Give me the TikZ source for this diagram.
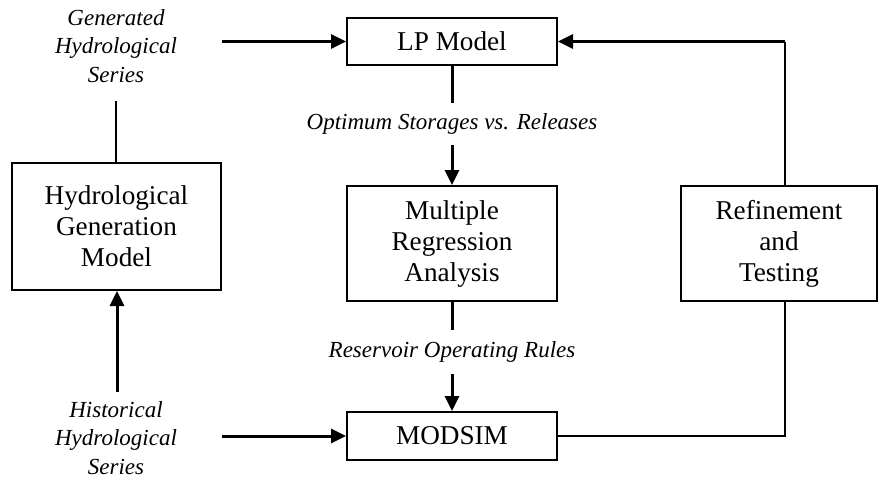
\documentclass[tikz,border=0pt]{standalone}
\usepackage{fontspec}
\setmainfont{Liberation Serif}
\usetikzlibrary{arrows.meta}
\begin{document}
\begin{tikzpicture}[x=0.5pt,y=-0.5pt,
  box/.style={draw, line width=1pt, inner sep=0pt, align=center,
    font=\fontsize{13.6}{15.5}\selectfont},
  lbl/.style={inner sep=0pt, align=center,
    font=\fontsize{11.5}{14.2}\selectfont\itshape},
  flow/.style={line width=1.5pt, -{Triangle[length=7.5pt,width=7pt]}},
  heavy/.style={line width=1.5pt},
  thinline/.style={line width=1pt}]
\useasboundingbox (0,0) rectangle (878,478);

% process boxes
\node[box, minimum width=105pt, minimum height=23.5pt] (lp)  at (452,41.5) {LP Model};
\node[box, minimum width=105pt, minimum height=57.5pt] (mra) at (452,243.5) {Multiple\\Regression\\Analysis};
\node[box, minimum width=105pt, minimum height=24pt]   (mod) at (452,436) {MODSIM};
\node[box, minimum width=104.5pt, minimum height=63.5pt] (hgm) at (116.5,226.5) {Hydrological\\Generation\\Model};
\node[box, minimum width=98pt, minimum height=57.5pt]  (ref) at (779,243.5) {Refinement\\and\\Testing};

% data labels
\node[lbl] (gen)  at (116,46)  {Generated\\Hydrological\\Series};
\node[lbl] (hist) at (116,438) {Historical\\Hydrological\\Series};
\node[lbl, minimum height=21pt] (opt) at (452,124) {Optimum Storages vs. Releases};
\node[lbl, minimum height=22pt] (res) at (452,352) {Reservoir Operating Rules};

% free ends and the feedback column
\coordinate (gtail) at (116,101);
\coordinate (htail) at (117,392);
\coordinate (fb) at (785,0);

% connectors
\draw[flow] (hgm.east |- lp.west) -- (lp.west);
\draw[flow] (hgm.east |- mod.west) -- (mod.west);
\draw[thinline] (gtail) -- (hgm.north -| gtail);
\draw[flow] (htail) -- (hgm.south -| htail);

\draw[heavy] (lp.south) -- (opt.north);
\draw[flow] (opt.south) -- (mra.north);
\draw[heavy] (mra.south) -- (res.north);
\draw[flow] (res.south) -- (mod.north);

\draw[thinline] (mod.east) -| (ref.south -| fb);
\draw[thinline] (ref.north -| fb) -- (fb |- lp.east);
\draw[flow] (fb |- lp.east) -- (lp.east);
\end{tikzpicture}
\end{document}
